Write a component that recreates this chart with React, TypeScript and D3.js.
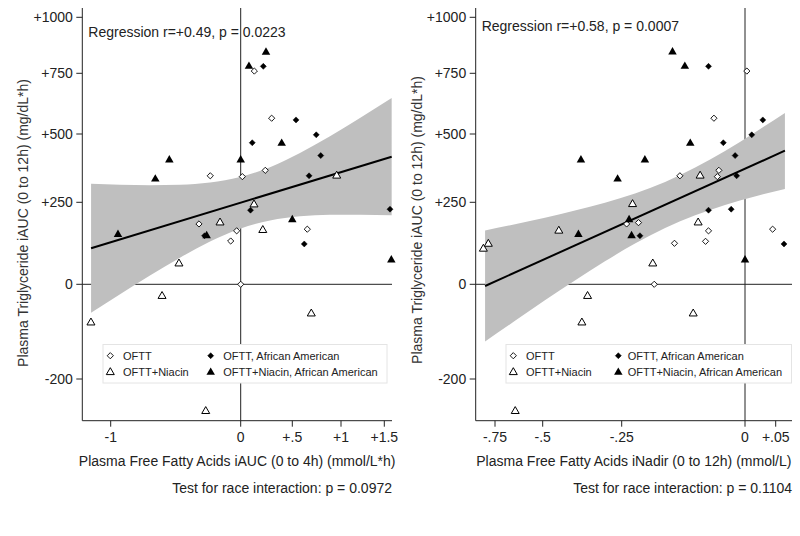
import React from "react";
import * as d3 from "d3";

// ---------- data ----------
const yTickValues = [-200, 0, 250, 500, 750, 1000];
const yTickLabels = ["-200", "0", "+250", "+500", "+750", "+1000"];

const leftXTickValues = [-1, 0, 0.5, 1, 1.5];
const leftXTickLabels = ["-1", "0", "+.5", "+1", "+1.5"];
const rightXTickValues = [-0.75, -0.5, -0.25, 0, 0.05];
const rightXTickLabels = ["-.75", "-.5", "-.25", "0", "+.05"];

// Left panel: FFA iAUC vs TG iAUC
const aucOftt: [number, number][] = [
  [0.132, 760], [0.3, 565], [-0.234, 347], [0.016, 344], [0.238, 367],
  [-0.321, 184], [-0.031, 163], [-0.077, 132], [0.654, 168], [0, 0],
];
const aucOfttAA: [number, number][] = [
  [0.219, 781], [0.538, 558], [0.112, 468], [0.746, 497], [0.792, 421],
  [0.672, 347], [0.095, 226], [1.566, 229], [0.623, 123], [-0.278, 148],
];
const aucNiacin: [number, number][] = [
  [0.956, 347], [0.129, 243], [-0.159, 188], [0.214, 165], [-0.475, 63],
  [-0.605, -25], [-1.152, -81], [0.695, -62], [-0.269, -268],
];
const aucNiacinAA: [number, number][] = [
  [0.245, 844], [0.08, 781], [-0.549, 405], [-0.657, 335], [0, 405],
  [0.397, 466], [-0.944, 152], [-0.262, 148], [0.5, 197], [1.581, 74],
];
const aucFitX = [-1.151, 1.585];
const aucFitY = [109.7, 416.9];
const aucBandX = [-1.151, -0.928, -0.698, -0.467, -0.236, -0.005, 0.284, 0.579, 0.887, 1.219, 1.585];
const aucBandHi = [317.7, 314.1, 312.6, 314.4, 322.5, 342.3, 378.5, 430.5, 491.6, 565.5, 647.8];
const aucBandLo = [-60.2, -20.9, 27.1, 81.1, 130.5, 169.5, 194.8, 207.6, 212.2, 212.2, 210.4];

// Right panel: FFA iNadir vs TG iAUC
const nadirOftt: [number, number][] = [
  [0.003, 760], [-0.063, 565], [-0.132, 347], [-0.053, 367], [-0.056, 344],
  [-0.24, 184], [-0.216, 188], [-0.143, 125], [-0.08, 131], [-0.074, 163],
  [0.045, 168], [-0.184, 0],
];
const nadirOfttAA: [number, number][] = [
  [-0.074, 781], [0.029, 558], [0.011, 497], [-0.044, 468], [-0.02, 421],
  [-0.017, 347], [-0.213, 148], [-0.074, 226], [-0.028, 229], [0.0635, 123],
];
const nadirNiacin: [number, number][] = [
  [-0.091, 347], [-0.811, 108], [-0.785, 123], [-0.449, 163], [-0.228, 244],
  [-0.187, 63], [-0.358, -25], [-0.376, -81], [-0.105, -62], [-0.095, 188],
  [-0.644, -268],
];
const nadirNiacinAA: [number, number][] = [
  [-0.147, 845], [-0.122, 781], [-0.379, 405], [-0.203, 405], [-0.263, 335],
  [-0.111, 466], [-0.387, 152], [-0.235, 197], [-0.23, 148], [0, 74],
];
const nadirFitX = [-0.802, 0.065];
const nadirFitY = [-3.6, 438.9];
const nadirBandX = [-0.802, -0.645, -0.493, -0.398, -0.303, -0.223, -0.162, -0.101, -0.0405, 0.016, 0.065];
const nadirBandHi = [164.0, 183.2, 203.0, 224.7, 248.8, 282.6, 324.7, 377.0, 438.1, 506.6, 586.9];
const nadirBandLo = [-120.8, -77.1, -33.8, 11.9, 70.1, 124.1, 171.4, 210.7, 242.1, 271.6, 299.1];

const legendLabels = ["OFTT", "OFTT, African American", "OFTT+Niacin", "OFTT+Niacin, African American"];

const FONT = "'Liberation Sans', Arial, sans-serif";

// ---------- markers ----------
function Marker({ kind, x, y }: { kind: string; x: number; y: number }) {
  if (kind === "od" || kind === "fd") {
    const r = kind === "od" ? 3.1 : 3.0;
    const d = `M${x},${y - r}L${x + r},${y}L${x},${y + r}L${x - r},${y}Z`;
    return kind === "od" ? (
      <path d={d} fill="#fff" stroke="#000" strokeWidth={0.9} />
    ) : (
      <path d={d} fill="#000" stroke="#000" strokeWidth={0.5} />
    );
  }
  const s = kind === "ot" ? 8 : 8.5;
  const h = s * 0.866;
  const d = `M${x},${y - (2 * h) / 3}L${x + s / 2},${y + h / 3}L${x - s / 2},${y + h / 3}Z`;
  return kind === "ot" ? (
    <path d={d} fill="#fff" stroke="#000" strokeWidth={1} strokeLinejoin="miter" />
  ) : (
    <path d={d} fill="#000" />
  );
}

type PanelProps = {
  x0: number;
  x1: number;
  xDomain: number[];
  xRange: number[];
  xTicks: number[];
  xLabels: string[];
  groups: [number, number][][];
  fitX: number[];
  fitY: number[];
  bandX: number[];
  bandHi: number[];
  bandLo: number[];
  regText: string;
  regBaseline: number;
  xTitle: string;
  testText: string;
  yTitleX: number;
  yTitleY: number;
  legendX: number;
  legendW: number;
  legCol2: number;
  legCol2Text: number;
};

const yScale = d3
  .scaleLinear()
  .domain(yTickValues)
  .range([379, 284.3, 202.3, 134, 73.3, 17.3]);

function Panel(p: PanelProps) {
  const top = 8;
  const bottom = 420.7;
  const xs = d3.scaleLinear().domain(p.xDomain).range(p.xRange);
  const y = yScale;
  const kinds = ["od", "fd", "ot", "ft"];

  const area = d3
    .area<number>()
    .x((_, i) => xs(p.bandX[i]))
    .y0((_, i) => y(p.bandLo[i]))
    .y1((_, i) => y(p.bandHi[i]))
    .curve(d3.curveMonotoneX);
  const bandPath = area(p.bandX) || "";
  const line = d3
    .line<number>()
    .x((_, i) => xs(p.fitX[i]))
    .y((_, i) => y(p.fitY[i]));
  const fitPath = line(p.fitX) || "";
  const zeroX = xs(0);
  const zeroY = y(0);
  const plotCx = (p.x0 + p.x1) / 2;

  return (
    <g>
      {/* reference lines */}
      <line x1={zeroX} x2={zeroX} y1={top} y2={bottom} stroke="#222" strokeWidth={1} />
      <line x1={p.x0} x2={p.x1} y1={zeroY} y2={zeroY} stroke="#222" strokeWidth={1} />
      {/* band */}
      <path d={bandPath} fill="#bfbfbf" stroke="none" />
      <path d={fitPath} fill="none" stroke="#000" strokeWidth={2} />
      {/* axes */}
      <line x1={p.x0} x2={p.x0} y1={top} y2={bottom} stroke="#222" strokeWidth={1} />
      <line x1={p.x0} x2={p.x1} y1={bottom} y2={bottom} stroke="#222" strokeWidth={1} />
      {yTickValues.map((v, i) => (
        <g key={"yt" + i}>
          <line x1={p.x0 - 6} x2={p.x0} y1={y(v)} y2={y(v)} stroke="#222" />
          <text
            x={p.x0 - 9.5}
            y={y(v)}
            dy="0.35em"
            textAnchor="end"
            fontSize={14}
            fontFamily={FONT}
            fill="#222"
          >
            {yTickLabels[i]}
          </text>
        </g>
      ))}
      {p.xTicks.map((v, i) => (
        <g key={"xt" + i}>
          <line x1={xs(v)} x2={xs(v)} y1={bottom} y2={bottom + 6} stroke="#222" />
          <text
            x={xs(v)}
            y={bottom + 21}
            textAnchor="middle"
            fontSize={14}
            fontFamily={FONT}
            fill="#222"
          >
            {p.xLabels[i]}
          </text>
        </g>
      ))}
      {/* points */}
      {p.groups.map((g, gi) =>
        g.map((d, i) => <Marker key={gi + "-" + i} kind={kinds[gi]} x={xs(d[0])} y={y(d[1])} />)
      )}
      {/* texts */}
      <text x={p.x0 + 6} y={p.regBaseline} fontSize={14} fontFamily={FONT} fill="#222">
        {p.regText}
      </text>
      <text
        x={plotCx}
        y={466}
        textAnchor="middle"
        fontSize={14}
        fontFamily={FONT}
        fill="#222"
      >
        {p.xTitle}
      </text>
      <text
        x={p.x1}
        y={492.5}
        textAnchor="end"
        fontSize={14}
        fontFamily={FONT}
        fill="#222"
      >
        {p.testText}
      </text>
      <text
        transform={`translate(${p.yTitleX},${p.yTitleY}) rotate(-90)`}
        textAnchor="middle"
        dy="0.35em"
        fontSize={14}
        fontFamily={FONT}
        fill="#333"
      >
        Plasma Triglyceride iAUC (0 to 12h) (mg/dL*h)
      </text>
      {/* legend */}
      <rect
        x={p.legendX}
        y={344.5}
        width={p.legendW}
        height={38.5}
        fill="#fff"
        stroke="#e4e4e4"
        strokeWidth={1}
      />
      <Marker kind="od" x={p.legendX + 7.3} y={355.7} />
      <Marker kind="ot" x={p.legendX + 7.3} y={372.3} />
      <Marker kind="fd" x={p.legCol2} y={355.7} />
      <Marker kind="ft" x={p.legCol2} y={372.3} />
      <text x={p.legendX + 20} y={355.7} dy="0.35em" fontSize={11} fontFamily={FONT} fill="#222">
        {legendLabels[0]}
      </text>
      <text x={p.legendX + 20} y={372.3} dy="0.35em" fontSize={11} fontFamily={FONT} fill="#222">
        {legendLabels[2]}
      </text>
      <text x={p.legCol2Text} y={355.7} dy="0.35em" fontSize={11} fontFamily={FONT} fill="#222">
        {legendLabels[1]}
      </text>
      <text x={p.legCol2Text} y={372.3} dy="0.35em" fontSize={11} fontFamily={FONT} fill="#222">
        {legendLabels[3]}
      </text>
    </g>
  );
}

export default function App() {
  return (
    <div style={{ position: "absolute", left: 0, top: 0, width: 800, height: 536, background: "#fff" }}>
      <svg width={800} height={536} style={{ display: "block" }}>
        <rect x={0} y={0} width={800} height={536} fill="#fff" />
        <Panel
          x0={82.3}
          x1={392}
          xDomain={leftXTickValues}
          xRange={[110.7, 240.7, 292.3, 341, 384.3]}
          xTicks={leftXTickValues}
          xLabels={leftXTickLabels}
          groups={[aucOftt, aucOfttAA, aucNiacin, aucNiacinAA]}
          fitX={aucFitX}
          fitY={aucFitY}
          bandX={aucBandX}
          bandHi={aucBandHi}
          bandLo={aucBandLo}
          regText="Regression r=+0.49, p = 0.0223"
          regBaseline={36.5}
          xTitle="Plasma Free Fatty Acids iAUC (0 to 4h) (mmol/L*h)"
          testText="Test for race interaction: p = 0.0972"
          yTitleX={23}
          yTitleY={223}
          legendX={103}
          legendW={284}
          legCol2={210.7}
          legCol2Text={223.3}
        />
        <Panel
          x0={475.7}
          x1={792}
          xDomain={rightXTickValues}
          xRange={[495, 542.7, 621.7, 745, 775.7]}
          xTicks={rightXTickValues}
          xLabels={rightXTickLabels}
          groups={[nadirOftt, nadirOfttAA, nadirNiacin, nadirNiacinAA]}
          fitX={nadirFitX}
          fitY={nadirFitY}
          bandX={nadirBandX}
          bandHi={nadirBandHi}
          bandLo={nadirBandLo}
          regText="Regression r=+0.58, p = 0.0007"
          regBaseline={31}
          xTitle="Plasma Free Fatty Acids iNadir (0 to 12h) (mmol/L)"
          testText="Test for race interaction: p = 0.1104"
          yTitleX={417}
          yTitleY={220}
          legendX={506}
          legendW={285.5}
          legCol2={618.3}
          legCol2Text={627.7}
        />
      </svg>
    </div>
  );
}
